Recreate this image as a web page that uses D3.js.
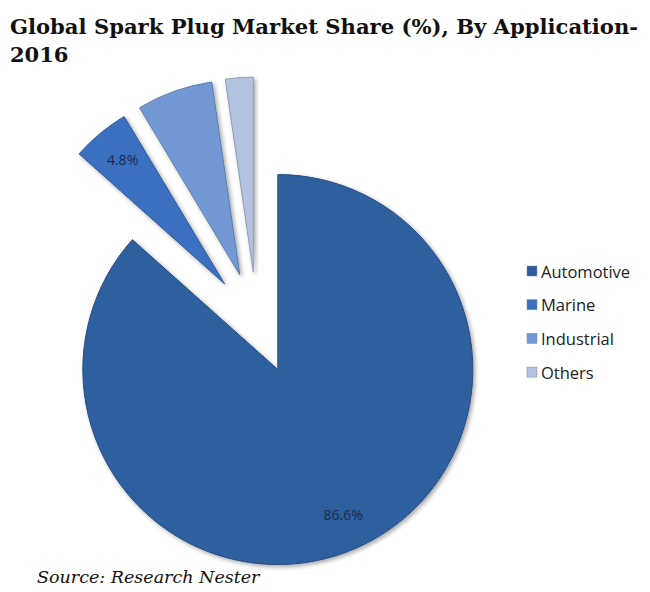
<!DOCTYPE html>
<html><head><meta charset="utf-8">
<script src="https://cdn.jsdelivr.net/npm/d3@7"></script>
<style>body{margin:0;background:#fff}</style>
</head><body>
<svg id="c" width="650" height="592"></svg>
<script>
const categories = ["Automotive", "Marine", "Industrial", "Others"];
const values = [86.6, 4.8, 6.3, 2.3];
const labels = ["86.6%", "4.8%", "", ""];
const colors = ["#2f5e9e", "#3b70c0", "#7399d4", "#b3c2e0"];

const svg = d3.select("#c");
const defs = svg.append("defs");
const f = defs.append("filter").attr("id","sh").attr("x","-20%").attr("y","-20%").attr("width","140%").attr("height","140%");
f.append("feDropShadow").attr("dx",2).attr("dy",2).attr("stdDeviation",2).attr("flood-color","#000").attr("flood-opacity",0.35);

svg.append("text").attr("x",10).attr("y",34)
  .attr("font-family","DejaVu Serif").attr("font-weight","bold").attr("font-size",21)
  .attr("fill","#111").attr("textLength",628).attr("lengthAdjust","spacingAndGlyphs")
  .text("Global Spark Plug Market Share (%), By Application-");
svg.append("text").attr("x",10).attr("y",62)
  .attr("font-family","DejaVu Serif").attr("font-weight","bold").attr("font-size",21)
  .attr("fill","#111").text("2016");

const cx = 257, cy = 323, r = 195, explode = 51;
const pie = d3.pie().sort(null).value(d => d)(values);
const arc = d3.arc().innerRadius(0).outerRadius(r);
const labelArc = d3.arc().innerRadius(r*0.82).outerRadius(r*0.82);

const g = svg.append("g").attr("transform",`translate(${cx},${cy})`);
const sl = g.selectAll("g.s").data(pie).join("g").attr("class","s")
  .attr("transform", d => {
    const a = (d.startAngle + d.endAngle)/2;
    return `translate(${explode*Math.sin(a)},${-explode*Math.cos(a)})`;
  });
sl.append("path").attr("d", arc).attr("fill",(d,i)=>colors[i])
  .attr("stroke",(d,i)=>d3.color(colors[i]).darker(0.6)).attr("stroke-width",1)
  .attr("filter","url(#sh)");
sl.append("text").attr("transform", d => {
    const c = labelArc.centroid(d);
    return `translate(${c[0]},${c[1]})`;
  })
  .attr("text-anchor","middle").attr("dy","0.35em")
  .attr("font-family","Open Sans").attr("font-size",14).attr("fill","#1a2b50")
  .text((d,i)=>labels[i]);

const lg = svg.append("g").attr("transform","translate(527,276)");
const items = lg.selectAll("g").data(categories).join("g")
  .attr("transform",(d,i)=>`translate(0,${i*33.7})`);
items.append("rect").attr("x",0).attr("y",-10).attr("width",10).attr("height",10)
  .attr("fill",(d,i)=>colors[i]).attr("stroke","#888").attr("stroke-width",0.5);
items.append("text").attr("x",14).attr("y",0).attr("dy","0.1em")
  .attr("font-family","Open Sans").attr("font-size",16.5).attr("fill","#222")
  .text(d=>d);

svg.append("text").attr("x",37).attr("y",583)
  .attr("font-family","DejaVu Serif").attr("font-style","italic").attr("font-size",17.5)
  .attr("fill","#111").text("Source: Research Nester");
</script>
</body></html>
